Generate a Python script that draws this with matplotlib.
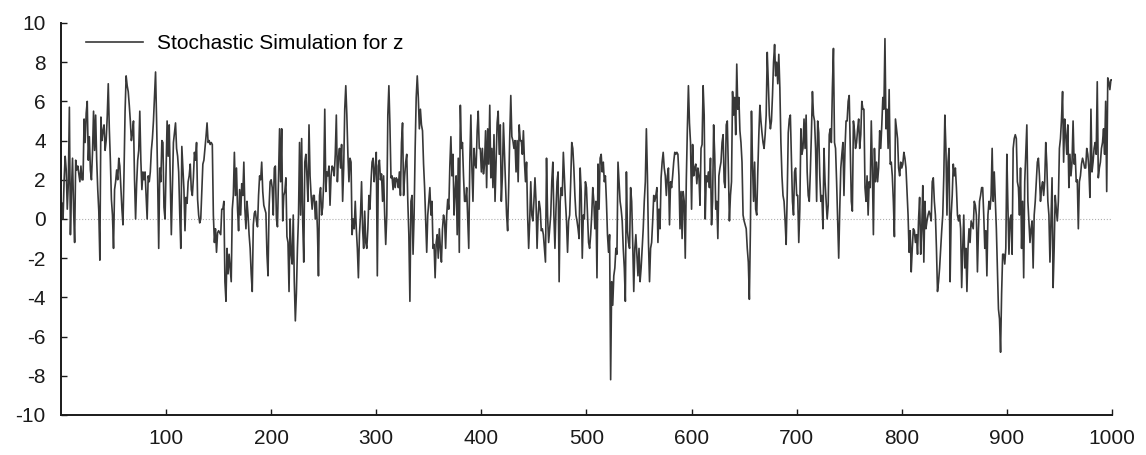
import numpy as np
import matplotlib
matplotlib.use("Agg")
import matplotlib.pyplot as plt

# values, 100 steps per block
z_001_100 = [
    0.8, 0.0, 2.0, 3.2, 2.5, 0.5, 1.8, 5.7, -0.8, 1.5,
    3.1, 0.5, -1.2, 3.0, 2.5, 2.7, 2.3, 1.9, 2.7, 2.0,
    2.0, 5.1, 3.9, 5.4, 6.0, 3.0, 4.2, 2.5, 2.0, 3.4,
    5.5, 3.5, 5.3, 3.0, 1.5, 0.4, -2.1, 5.2, 4.0, 4.5,
    4.8, 3.5, 4.0, 5.2, 6.9, 4.6, 3.0, 1.0, 0.2, -1.5,
    1.5, 1.9, 2.5, 2.0, 3.1, 2.7, 1.6, 0.5, -0.3, 2.4,
    5.5, 7.3, 6.8, 6.5, 5.8, 5.0, 4.0, 4.4, 5.0, 2.0,
    0.0, 1.8, 3.0, 3.5, 5.5, 3.0, 1.5, 2.4, 2.0, 2.4,
    1.2, 0.0, 2.2, 1.9, 2.4, 3.5, 4.1, 5.0, 6.2, 7.5,
    5.0, 2.0, -1.5, 2.6, 1.9, 4.0, 3.9, 0.6, 0.0, 2.4,
]
z_101_200 = [
    5.0, 3.2, 4.8, 2.0, -0.8, 1.5, 3.9, 4.4, 4.9, 3.6,
    3.2, 2.4, 0.3, -1.5, 3.7, 2.6, 1.5, -0.6, 1.1, 0.8,
    1.9, 2.2, 2.8, 1.5, 1.2, 2.1, 3.4, 3.0, 3.9, 1.0,
    0.2, -0.2, 0.0, 1.4, 2.8, 3.0, 3.6, 4.2, 4.9, 3.9,
    4.0, 3.8, 3.9, 3.8, 0.2, -1.2, -0.5, -1.7, -0.7, -0.6,
    -0.7, -0.8, 0.5, 0.5, 0.9, -3.2, -4.2, -1.5, -2.8, -1.8,
    -2.5, -3.2, 0.5, 1.2, 3.4, 1.2, 2.6, 0.5, -0.6, 1.5,
    0.2, 1.8, 1.2, 2.9, 0.5, -0.5, 0.9, 0.2, -0.8, -1.5,
    -2.8, -3.7, -0.3, 0.3, 0.4, -0.1, -0.4, 1.2, 2.2, 2.0,
    2.9, 1.4, 0.7, 0.5, 0.3, -1.8, -2.9, 0.6, 1.9, 2.0,
]
z_201_300 = [
    1.6, 0.2, 2.6, 2.7, 0.0, -0.4, 2.0, 4.6, 1.9, 4.6,
    -0.1, 1.2, 1.4, 2.1, -0.9, -1.2, -3.7, 0.0, -1.8, -2.3,
    0.2, -3.2, -5.2, -3.8, -1.5, 0.1, 3.9, 0.2, 4.1, -0.1,
    -2.2, 2.9, 3.3, 2.2, 0.9, 4.8, 2.2, 1.2, 0.5, 1.2,
    1.2, 0.0, 0.9, -0.5, -2.9, 1.2, 1.6, 0.2, 0.6, 1.9,
    5.6, 1.4, 2.4, 2.2, 2.7, 0.7, 2.2, 2.7, 2.6, 2.2,
    3.3, 5.3, 1.9, 3.1, 3.6, 2.6, 3.8, 0.9, 2.6, 5.6,
    6.8, 5.3, 3.3, 1.9, 3.1, 2.9, -0.8, 0.0, -0.5, 0.9,
    -0.5, -1.5, -3.0, -0.8, 0.2, 1.9, -0.5, -1.5, 0.4, -1.2,
    -1.5, -0.5, 1.2, 0.5, 1.9, 2.9, 3.1, 1.9, 2.6, 3.4,
]
z_301_400 = [
    -2.9, 2.7, 3.0, 2.0, 2.3, 0.9, 2.2, 0.2, -1.3, 0.2,
    5.3, 6.8, 4.8, 2.1, 2.2, 1.5, 2.1, 1.6, 2.1, 2.0,
    1.6, 2.4, 1.2, 3.9, 4.9, 1.2, 2.2, 2.9, 3.3, 0.9,
    -0.8, -4.2, 0.9, 1.2, -1.8, 0.2, 3.6, 6.2, 7.3, 6.2,
    4.6, 5.6, 4.8, 4.5, 2.8, 1.6, 0.0, -1.7, 0.2, 0.9,
    1.6, 0.2, 0.9, -1.5, -1.3, -3.0, -1.2, -0.8, -2.0, -0.5,
    -1.5, -2.2, -0.5, 0.2, -0.1, -1.5, 0.2, 1.0, 0.5, 2.7,
    4.2, 2.2, 3.3, 0.2, 1.4, 2.2, -0.8, 3.1, -1.7, 5.8,
    3.6, 3.9, 2.2, 0.9, 0.9, 1.6, 0.0, -1.5, 2.9, 5.3,
    2.6, 0.9, 3.6, 2.8, 2.6, 4.5, 5.5, 3.6, 3.6, 2.4,
]
z_401_500 = [
    3.6, 2.3, 2.8, 4.5, 1.6, 4.6, 2.8, 5.8, 2.1, 3.6,
    1.6, 4.3, 0.9, 2.8, 4.9, 5.5, 3.3, 4.8, 0.9, 2.2,
    4.9, 3.3, 1.6, 0.2, -0.6, 1.6, 4.2, 6.3, 4.2, 4.0,
    3.6, 4.0, 2.4, 4.0, 1.9, 4.8, 4.0, 4.0, 3.3, 4.5,
    2.9, 1.9, 2.9, 0.2, -1.5, -0.1, 1.9, 0.2, -0.1, 0.9,
    2.1, 0.9, -1.5, 0.2, 0.9, 0.5, -0.6, -0.5, -0.8, -1.5,
    -2.2, 3.1, 0.2, -1.2, -0.5, 0.2, 1.9, 2.9, 0.2, -1.5,
    0.5, 1.9, 2.4, -3.2, 0.9, 1.6, 1.2, 3.4, 2.1, 0.9,
    -0.1, -1.7, -0.1, 0.2, 1.9, 3.9, 3.6, 2.6, 1.2, 0.2,
    -0.1, -0.5, -1.0, 2.6, 1.4, -2.0, 0.2, 0.0, 1.9, 1.6,
]
z_501_600 = [
    0.2, -1.2, -1.5, -0.8, 0.2, 1.6, 0.9, -0.5, 0.9, -3.0,
    2.8, 0.5, 3.1, 3.3, 2.4, 2.9, 1.9, 2.2, 0.9, -0.8,
    -1.7, -0.8, -8.2, -3.2, -4.4, -2.9, -2.5, -1.5, -1.8, 2.9,
    1.9, 0.9, 0.5, -0.1, -1.5, -2.5, -4.2, 2.4, -0.6, -1.2,
    -1.5, 1.6, 0.9, -1.2, -3.7, -1.5, -0.8, -1.8, -2.9, -1.5,
    -3.2, -2.5, -1.5, -0.5, 0.9, 1.9, 4.6, 2.2, -1.2, -3.2,
    -1.5, -1.2, -0.1, 1.2, 0.9, 1.2, 1.6, -1.2, 0.5, -0.5,
    2.1, 2.9, 3.4, 2.6, 2.2, 1.2, 2.2, 2.6, -0.3, 1.9,
    1.6, 2.2, 2.9, 3.4, 3.3, 3.4, 3.3, 2.2, -0.5, 1.4,
    -1.0, 1.4, 0.9, -2.0, 2.0, 4.6, 6.8, 4.9, 3.9, 0.5,
]
z_601_700 = [
    3.8, 2.2, 2.6, 2.8, 1.8, 2.6, 2.2, 0.7, 3.6, 3.8,
    6.8, 5.3, 0.0, 2.2, 1.9, 2.4, 1.6, 3.1, -0.3, 0.9,
    4.8, 3.3, 0.5, 0.9, -1.0, 2.2, 2.6, 2.9, 3.9, 4.3,
    1.9, 1.6, 4.8, 5.0, 2.6, -0.1, 1.2, 1.9, 6.5, 5.3,
    6.2, 4.3, 7.9, 5.6, 6.2, 4.5, 3.9, 2.9, 0.2, -0.1,
    -0.3, -0.5, -1.5, -2.2, -4.1, -0.5, 5.5, 2.8, 0.9, 2.9,
    0.5, 0.2, 2.4, 4.3, 5.8, 5.0, 4.4, 3.9, 3.6, 4.3,
    5.3, 8.5, 7.0, 5.3, 4.6, 5.0, 6.3, 8.0, 8.9, 7.3,
    8.0, 6.9, 8.4, 6.7, 3.9, 2.2, 1.2, 0.9, -0.1, -1.3,
    1.2, 4.4, 5.1, 5.3, 3.1, 0.9, 0.2, 2.4, 2.6, 1.2,
]
z_701_800 = [
    1.2, -1.2, 0.5, 4.6, 3.3, 3.6, 5.1, 3.6, 5.3, 2.4,
    1.2, 0.9, 2.4, 4.3, 6.5, 5.3, 5.0, 3.6, 0.9, 5.0,
    4.4, 2.2, 0.9, 1.2, -0.5, 3.6, 1.9, 0.9, 0.0, 0.7,
    4.3, 4.6, 3.9, 6.7, 8.7, 3.9, 3.6, 1.9, 0.0, -2.0,
    0.5, 2.6, 3.3, 3.9, 1.2, 3.6, 5.0, 5.0, 6.0, 6.3,
    3.6, 0.9, 0.4, 5.0, 4.5, 3.6, 3.9, 4.6, 5.1, 3.6,
    4.3, 6.0, 5.6, 5.6, 1.6, 0.9, 2.2, 0.2, 1.9, 1.6,
    5.0, 2.6, -0.8, 3.6, 1.9, 2.9, 1.9, 2.6, 4.5, 3.6,
    4.8, 6.2, 5.6, 9.2, 4.6, 5.6, 3.6, 6.6, 2.8, 2.9,
    2.2, 0.9, -0.9, 5.1, 4.6, 4.1, 2.6, 2.2, 2.9, 2.6,
]
z_801_900 = [
    2.8, 3.4, 3.1, 2.6, 1.4, 0.2, -1.7, -0.6, -2.7, -1.5,
    -0.5, -0.6, -1.2, -0.8, -1.8, 0.0, 1.1, -1.8, -0.5, 1.7,
    -2.2, 0.9, -0.5, -0.1, 0.2, 0.4, 0.2, -0.1, 1.9, 2.1,
    0.9, 0.2, -1.5, -3.7, -3.2, -2.5, -1.5, -0.6, 0.2, 2.2,
    5.3, 3.6, 0.2, 2.9, 3.6, -3.2, 0.2, 1.2, 2.8, 2.2,
    2.6, 1.6, 0.2, -0.1, 0.2, -0.5, -3.5, -1.5, 0.2, -2.5,
    -1.5, -3.7, -1.5, -0.5, -1.2, -0.1, -0.3, -0.5, 0.9, 0.7,
    0.2, -2.7, -0.5, 0.9, 1.2, 1.6, 1.6, 0.2, -1.5, -0.6,
    -2.9, 0.2, 0.9, 0.5, 1.2, 3.6, 0.9, 2.4, 0.9, -0.5,
    -2.5, -4.6, -5.1, -6.8, -3.8, -1.8, -1.8, -2.3, -1.5, 3.3,
]
z_901_1000 = [
    0.6, -1.8, 0.0, 0.2, -1.8, 3.6, 4.1, 4.3, 4.1, 1.9,
    1.6, 0.2, 2.6, -1.5, 0.9, -3.0, 1.9, 3.3, 4.8, 0.9,
    -0.1, -1.2, -0.5, -0.1, -2.5, 0.2, 0.9, 1.9, 2.9, 3.1,
    2.2, 0.9, 1.6, 1.9, 1.2, 1.9, 3.9, 2.8, 0.9, 0.2,
    -2.2, -0.1, 2.1, -3.5, -1.5, 1.2, 0.5, -0.1, 0.9, 3.6,
    4.1, 5.1, 6.5, 2.9, 5.1, 4.3, 3.3, 4.8, 1.6, 3.3,
    2.2, 2.9, 5.0, 2.8, 3.3, 1.9, 2.0, -0.5, 1.9, 2.2,
    2.8, 3.1, 2.9, 2.6, 2.6, 3.6, 3.3, 2.6, 1.1, 5.6,
    2.4, 2.9, 3.6, 3.9, 3.3, 7.0, 2.1, 2.6, 2.9, 3.6,
    3.9, 4.6, 3.3, 6.0, 1.4, 7.2, 7.0, 6.6, 7.1, 7.1,
]

z = np.array(z_001_100 + z_101_200 + z_201_300 + z_301_400 + z_401_500
             + z_501_600 + z_601_700 + z_701_800 + z_801_900 + z_901_1000)
t = np.arange(1, len(z) + 1)

x_ticks = [100, 200, 300, 400, 500, 600, 700, 800, 900, 1000]
y_ticks = [-10, -8, -6, -4, -2, 0, 2, 4, 6, 8, 10]

plt.rcParams['font.family'] = ['Liberation Sans', 'DejaVu Sans']
plt.rcParams['axes.unicode_minus'] = False

fig = plt.figure(figsize=(11.46, 4.55), dpi=100)
ax = fig.add_axes([0.0532, 0.088, 0.9171, 0.8615])

ax.axhline(0, color='#b0b0b0', lw=0.8, ls=':', zorder=1)
ax.plot(t, z, color='#383838', lw=1.2, label='Stochastic Simulation for z', zorder=2)

ax.set_xlim(0, 1000)
ax.set_ylim(-10, 10)
ax.set_xticks(x_ticks)
ax.set_yticks(y_ticks)

for side in ['top', 'right']:
    ax.spines[side].set_visible(False)
for side in ['left', 'bottom']:
    ax.spines[side].set_linewidth(1.4)
    ax.spines[side].set_color('#1a1a1a')

ax.tick_params(direction='in', length=4.5, width=1.0, labelsize=15,
               colors='#1a1a1a')
ax.tick_params(axis='y', pad=11)
ax.tick_params(axis='x', pad=10)

ax.legend(loc='upper left', bbox_to_anchor=(0.0238, 0.972), frameon=False,
          fontsize=15, handlelength=2.75, handletextpad=0.65,
          borderpad=0, borderaxespad=0)

fig.savefig('out.png', dpi=100)
